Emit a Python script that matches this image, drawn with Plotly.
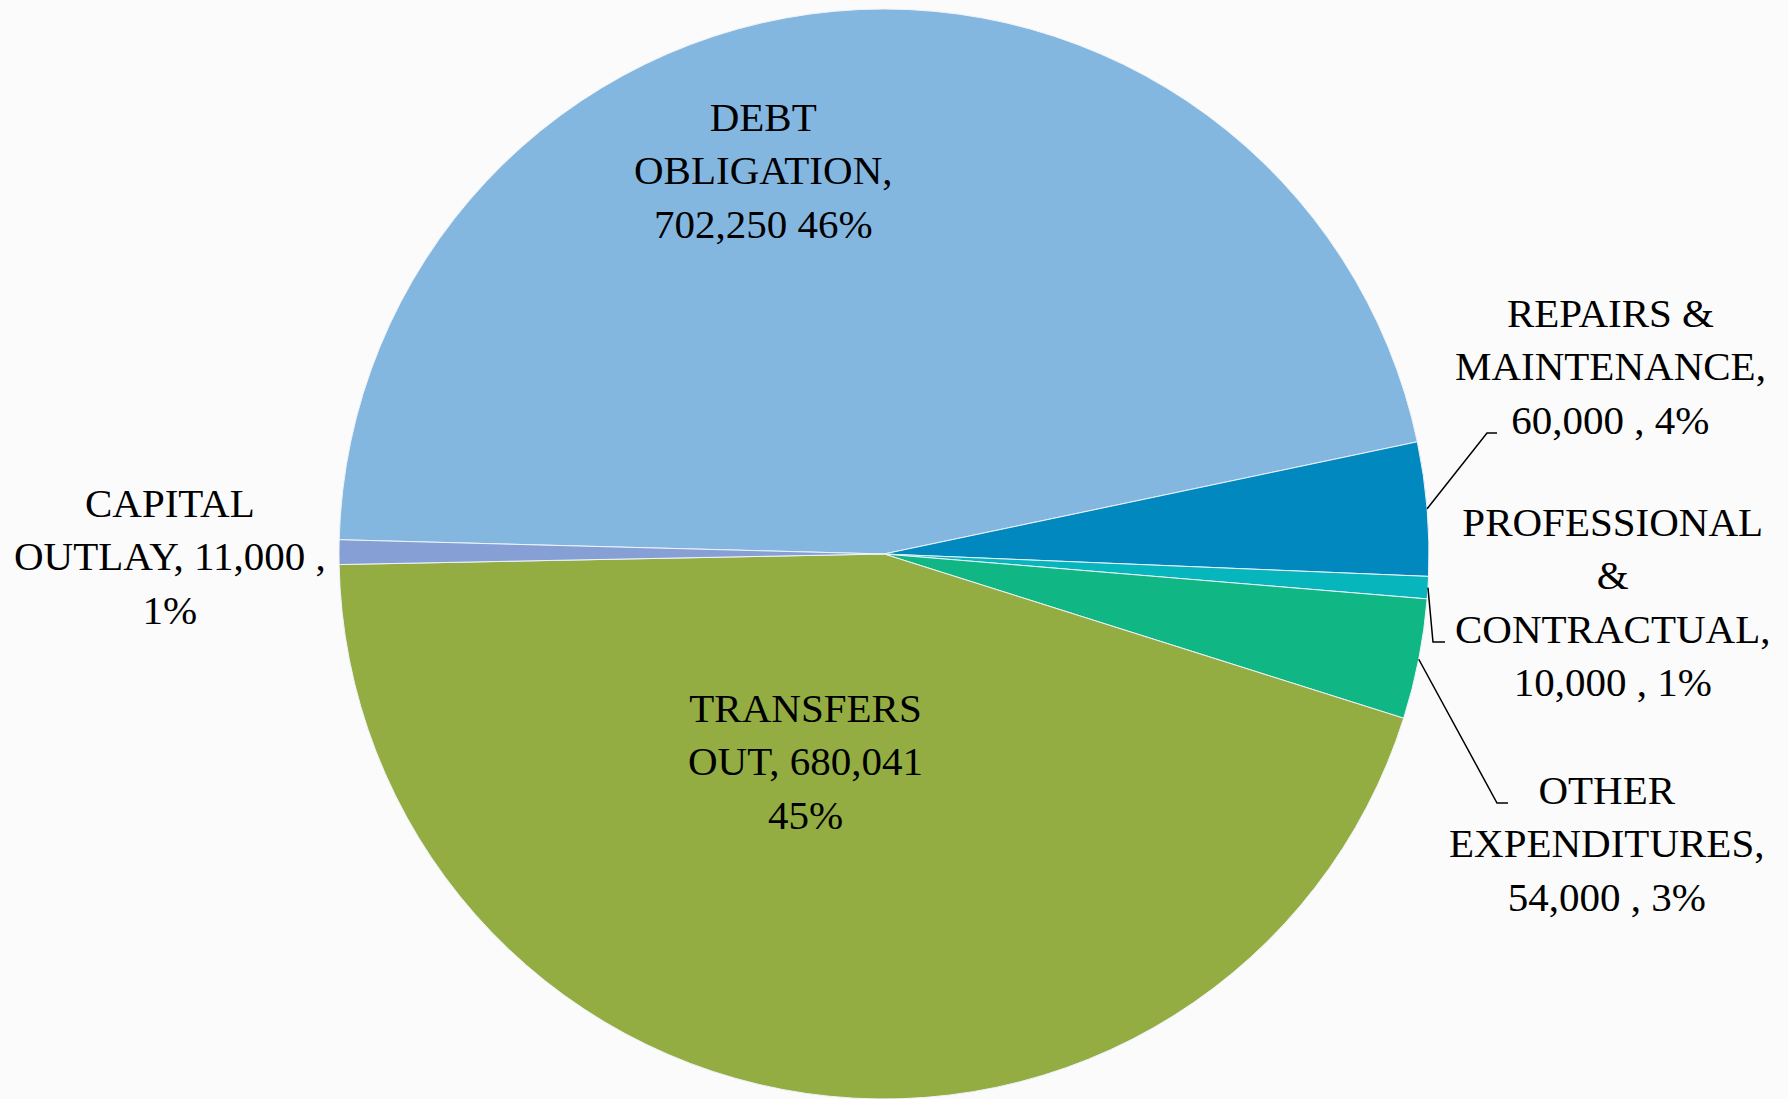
import math
import plotly.graph_objects as go

# ---- data ----
categories = ["DEBT OBLIGATION", "REPAIRS & MAINTENANCE", "PROFESSIONAL & CONTRACTUAL",
              "OTHER EXPENDITURES", "TRANSFERS OUT", "CAPITAL OUTLAY"]
values = [702250, 60000, 10000, 54000, 680041, 11000]
label_texts = [
    "DEBT<br>OBLIGATION,<br>702,250 46%",
    "REPAIRS &amp;<br>MAINTENANCE,<br>60,000 , 4%",
    "PROFESSIONAL<br>&amp;<br>CONTRACTUAL,<br>10,000 , 1%",
    "OTHER<br>EXPENDITURES,<br>54,000 , 3%",
    "TRANSFERS<br>OUT, 680,041<br>45%",
    "CAPITAL<br>OUTLAY, 11,000 ,<br>1%",
]
colors = ["#84B7E0", "#0088BF", "#07B5BD", "#10B785", "#94AD42", "#86A0D6"]

# ---- layout constants (pixels) ----
W, H = 1788, 1099
CX, CY, R = 884, 554, 545
ROT = -88.5
# label block centres (px)
label_pos = [(763, 171), (1610, 366), (1612, 602), (1606, 843), (805, 761), (170, 556)]
# leader line elbows and ends (px), None = no leader
leaders = [None, [(1487, 433), (1497, 433)], [(1433, 642), (1445, 642)],
           [(1497, 803), (1508, 803)], None, None]

def px2paper(x, y):
    return x / W, 1 - y / H

fig = go.Figure(go.Pie(
    labels=categories, values=values, sort=False, direction="clockwise",
    rotation=ROT, textinfo="none", hoverinfo="skip",
    marker=dict(colors=colors, line=dict(color="#EEF3F8", width=1.0)),
    domain=dict(x=[(CX - R) / W, (CX + R) / W], y=[(H - CY - R) / H, (H - CY + R) / H]),
    showlegend=False,
))

total = sum(values)
ang = ROT
annotations = []
shapes = []
for i, v in enumerate(values):
    span = v / total * 360
    mid = math.radians(ang + span / 2)
    ang += span
    lx, ly = label_pos[i]
    px_, py_ = px2paper(lx, ly)
    annotations.append(dict(x=px_, y=py_, xref="paper", yref="paper", text=label_texts[i],
                            showarrow=False, xanchor="center", yanchor="middle", align="center",
                            font=dict(family="Liberation Serif", size=41, color="black")))
    if leaders[i]:
        ex, ey = CX + R * math.sin(mid), CY - R * math.cos(mid)
        pts = [(ex, ey)] + leaders[i]
        path = "M " + " L ".join(f"{px2paper(x, y)[0]:.5f},{px2paper(x, y)[1]:.5f}" for x, y in pts)
        shapes.append(dict(type="path", path=path, xref="paper", yref="paper",
                           line=dict(color="black", width=1.5)))

fig.update_layout(width=W, height=H, margin=dict(l=0, r=0, t=0, b=0),
                  paper_bgcolor="#FBFBFB", plot_bgcolor="#FBFBFB",
                  annotations=annotations, shapes=shapes)
fig.write_html("out.html", config={"displayModeBar": False, "staticPlot": True},
               post_script="document.body.style.margin='0';document.body.style.overflow='hidden';")
